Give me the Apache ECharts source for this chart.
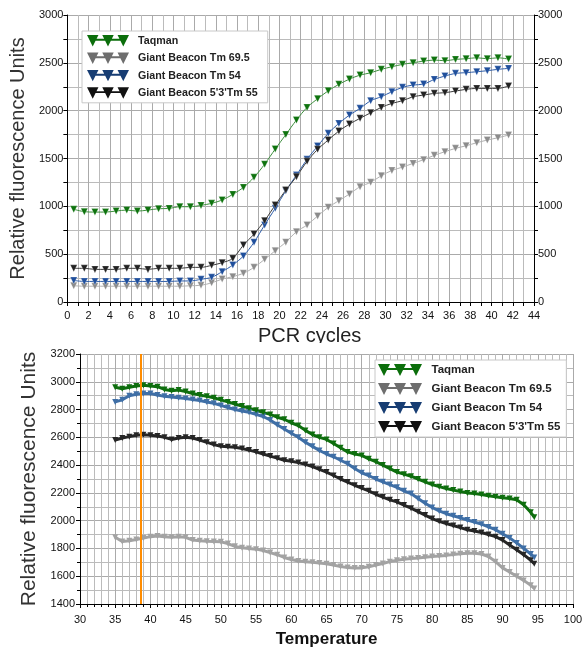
<!DOCTYPE html>
<html>
<head>
<meta charset="utf-8">
<script src="https://cdn.jsdelivr.net/npm/echarts@6/dist/echarts.min.js"></script>
<style>
    html, body { margin: 0; padding: 0; background: #fff; }
    #main { width: 587px; height: 651px; }
</style>
</head>
<body>
<div id="main"></div>
<script>
/* 数据：PCR 扩增曲线 */
var cycles = [0.6, 1.6, 2.6, 3.6, 4.6, 5.6, 6.6, 7.6, 8.6, 9.6, 10.6, 11.6, 12.6, 13.6, 14.6, 15.6, 16.6, 17.6, 18.6, 19.6, 20.6,
    21.6, 22.6, 23.6, 24.6, 25.6, 26.6, 27.6, 28.6, 29.6, 30.6, 31.6, 32.6, 33.6, 34.6, 35.6, 36.6, 37.6, 38.6, 39.6, 40.6, 41.6];
var taqmanPcr = [969, 944, 940, 940, 951, 961, 950, 961, 975, 978, 996, 996, 1010, 1031, 1066, 1125, 1198, 1303, 1440, 1599, 1750,
    1902, 2034, 2125, 2208, 2275, 2330, 2372, 2396, 2432, 2459, 2484, 2501, 2518, 2529, 2522, 2536, 2543, 2553, 2543, 2553, 2539];
var gb695Pcr = [170, 165, 165, 165, 165, 165, 165, 165, 165, 165, 165, 170, 175, 200, 240, 265, 300, 362, 446, 536, 625,
    735, 805, 899, 990, 1059, 1129, 1205, 1251, 1320, 1375, 1410, 1449, 1488, 1533, 1571, 1606, 1633, 1665, 1693, 1717, 1745];
var gb54Pcr = [225, 215, 215, 215, 215, 215, 215, 215, 215, 215, 220, 220, 237, 258, 317, 387, 481, 624, 805, 979, 1163,
    1327, 1491, 1630, 1763, 1867, 1954, 2024, 2104, 2146, 2198, 2244, 2268, 2278, 2327, 2362, 2390, 2397, 2407, 2418, 2432, 2442];
var gb55Pcr = [352, 352, 341, 341, 341, 352, 352, 341, 352, 352, 352, 362, 362, 383, 411, 456, 595, 710, 850, 1013, 1170,
    1310, 1470, 1596, 1693, 1787, 1860, 1920, 1978, 2034, 2076, 2104, 2146, 2163, 2181, 2188, 2205, 2223, 2233, 2233, 2233, 2257];

/* 数据：熔解曲线 */
var temps = [35, 36, 37, 38, 39, 40, 41, 42, 43, 44, 45, 46, 47, 48, 49, 50, 51, 52, 53, 54, 55, 56, 57, 58, 59, 60,
    61, 62, 63, 64, 65, 66, 67, 68, 69, 70, 71, 72, 73, 74, 75, 76, 77, 78, 79, 80, 81, 82, 83, 84, 85, 86, 87, 88, 89, 90,
    91, 92, 93, 94, 94.5];
var taqmanMelt = [2960, 2950, 2960, 2970, 2975, 2970, 2965, 2945, 2935, 2940,
    2930, 2915, 2905, 2895, 2885, 2870, 2855, 2840, 2825, 2810,
    2795, 2780, 2765, 2745, 2730, 2705, 2685, 2650, 2620, 2600,
    2585, 2555, 2525, 2495, 2480, 2470, 2445, 2425, 2400, 2375,
    2350, 2335, 2320, 2300, 2280, 2260, 2245, 2232, 2220, 2210,
    2200, 2195, 2188, 2180, 2172, 2165, 2160, 2150, 2115, 2060, 2025];
var gb695Melt = [1880, 1850, 1855, 1865, 1875, 1885, 1890, 1885, 1880, 1885,
    1880, 1860, 1855, 1852, 1850, 1848, 1835, 1815, 1805, 1800,
    1795, 1785, 1770, 1755, 1735, 1720, 1710, 1705, 1700, 1695,
    1690, 1680, 1670, 1662, 1660, 1660, 1668, 1680, 1692, 1705,
    1715, 1722, 1727, 1732, 1737, 1742, 1745, 1750, 1757, 1762,
    1765, 1765, 1760, 1742, 1705, 1660, 1630, 1600, 1570, 1535, 1512];
var gb54Melt = [2855, 2870, 2900, 2910, 2915, 2915, 2905, 2895, 2890, 2885,
    2880, 2872, 2865, 2855, 2845, 2830, 2815, 2800, 2790, 2780,
    2765, 2750, 2725, 2690, 2660, 2630, 2600, 2565, 2535, 2505,
    2480, 2460, 2435, 2410, 2375, 2345, 2325, 2300, 2280, 2260,
    2240, 2215, 2195, 2160, 2125, 2095, 2070, 2050, 2035, 2020,
    2005, 1990, 1975, 1955, 1935, 1905, 1875, 1840, 1800, 1760, 1735];
var gb55Melt = [2580, 2595, 2605, 2615, 2618, 2615, 2610, 2600, 2585, 2595,
    2600, 2595, 2580, 2565, 2548, 2535, 2532, 2528, 2520, 2508,
    2495, 2480, 2465, 2450, 2435, 2428, 2418, 2405, 2390, 2370,
    2350, 2325, 2300, 2278, 2255, 2235, 2215, 2190, 2170, 2150,
    2135, 2112, 2090, 2065, 2040, 2015, 1995, 1980, 1965, 1950,
    1935, 1925, 1915, 1900, 1885, 1860, 1825, 1790, 1755, 1715, 1690];
var meltMarker = 38.6; // 橙色竖线

var seriesNames = ['Taqman', 'Giant Beacon Tm 69.5', 'Giant Beacon Tm 54', "Giant Beacon 5'3'Tm 55"];
var legendColors = ['#0b6e0b', '#6e6e6e', '#173d73', '#111111'];
var pcrLine = ['#3d8f3d', '#b0b0b0', '#2b5ba8', '#3a3a3a'];
var pcrMark = ['#0e730e', '#8c8c8c', '#1f4f9c', '#222222'];
var meltColors = ['#0e6e0e', '#a3a3a3', '#3f6fa6', '#262626'];

/* 图例图标：三个倒三角连线 */
var legendIcon = 'path://M0,0 L12,0 L6,12 Z M16,0 L28,0 L22,12 Z M32,0 L44,0 L38,12 Z M6,4 L38,4 L38,6 L6,6 Z';

function zip(xs, ys) {
    var data = [];
    for (var i = 0; i < xs.length; i++) {
        data.push([xs[i], ys[i]]);
    }
    return data;
}

// 不要千分位逗号
function plainNum(v) {
    return String(v);
}

var labelStyle = { fontFamily: 'Liberation Sans', fontSize: 11, color: '#111' };
var gridLine = { show: true, lineStyle: { color: '#aaaaaa', width: 1 } };
var minorGridLine = { show: true, lineStyle: { color: '#bbbbbb', width: 1 } };
var blackAxis = { show: true, lineStyle: { color: '#000', width: 1 } };

function legendData() {
    return seriesNames.map(function (n, i) {
        return { name: n, icon: legendIcon, itemStyle: { color: legendColors[i], borderWidth: 0 } };
    });
}

var pcrData = [taqmanPcr, gb695Pcr, gb54Pcr, gb55Pcr];
var meltData = [taqmanMelt, gb695Melt, gb54Melt, gb55Melt];

var series = [];
pcrData.forEach(function (vals, i) {
    series.push({
        name: seriesNames[i],
        type: 'line',
        xAxisIndex: 0,
        yAxisIndex: 0,
        smooth: 0.3,
        symbol: 'triangle',
        symbolRotate: 180,
        symbolSize: 7,
        lineStyle: { color: pcrLine[i], width: 1 },
        itemStyle: { color: pcrMark[i], borderColor: 'rgba(255,255,255,0.5)', borderWidth: 0.5 },
        data: zip(cycles, vals)
    });
});
// 熔解曲线：灰、黑、蓝、绿 的绘制顺序
[1, 3, 2, 0].forEach(function (i) {
    var s = {
        name: seriesNames[i],
        type: 'line',
        xAxisIndex: 1,
        yAxisIndex: 2,
        symbol: 'triangle',
        symbolRotate: 180,
        symbolSize: 6,
        lineStyle: { color: meltColors[i], width: 3 },
        itemStyle: { color: meltColors[i] },
        data: zip(temps, meltData[i])
    };
    if (i === 1) {
        s.markLine = {
            silent: true,
            symbol: 'none',
            label: { show: false },
            lineStyle: { color: '#ff8c00', width: 2, type: 'solid' },
            data: [{ xAxis: meltMarker }]
        };
    }
    series.push(s);
});

var option = {
    animation: false,
    backgroundColor: '#fff',
    grid: [
        { left: 62, right: 53, top: 15, height: 287 },
        { left: 80, right: 14, top: 354, height: 250 }
    ],
    legend: [
        {
            orient: 'vertical', left: 82, top: 31,
            padding: [4, 10, 4, 5], itemGap: 6, itemWidth: 42, itemHeight: 13,
            backgroundColor: '#fff', borderColor: '#c8c8c8', borderWidth: 1,
            textStyle: { fontFamily: 'Liberation Sans', fontSize: 10.7, fontWeight: 'bold', color: '#222', padding: [0, 0, 0, 4] },
            selectedMode: false,
            data: legendData()
        },
        {
            orient: 'vertical', left: 375, top: 360,
            padding: [4, 6, 4, 3], itemGap: 7, itemWidth: 45, itemHeight: 12,
            backgroundColor: '#fff', borderColor: '#c8c8c8', borderWidth: 1,
            textStyle: { fontFamily: 'Liberation Sans', fontSize: 11.5, fontWeight: 'bold', color: '#222', padding: [0, 0, 0, 4] },
            selectedMode: false,
            data: legendData()
        }
    ],
    xAxis: [
        {
            gridIndex: 0, type: 'value', min: 0, max: 44, interval: 2,
            name: 'PCR cycles', nameLocation: 'middle', nameGap: 24,
            nameTextStyle: { fontFamily: 'Liberation Sans', fontSize: 20, color: '#222', padding: [0, 0, 0, 18] },
            axisLine: blackAxis,
            axisTick: { show: true, length: 4, lineStyle: { color: '#000' } },
            minorTick: { show: true, splitNumber: 2, length: 4, lineStyle: { color: '#000' } },
            axisLabel: labelStyle,
            splitLine: gridLine,
            minorSplitLine: minorGridLine
        },
        {
            gridIndex: 1, type: 'value', min: 30, max: 100, interval: 5,
            name: 'Temperature', nameLocation: 'middle', nameGap: 27,
            nameTextStyle: { fontFamily: 'Liberation Sans', fontSize: 17, fontWeight: 'bold', color: '#111' },
            axisLine: blackAxis,
            axisTick: { show: true, length: 4, lineStyle: { color: '#000' } },
            minorTick: { show: true, splitNumber: 5, length: 3, lineStyle: { color: '#000' } },
            axisLabel: { fontFamily: 'Liberation Sans', fontSize: 11, color: '#111', margin: 10 },
            splitLine: gridLine,
            minorSplitLine: minorGridLine
        }
    ],
    yAxis: [
        {
            gridIndex: 0, type: 'value', min: 0, max: 3000, interval: 500, position: 'left',
            name: 'Relative fluorescence Units', nameLocation: 'middle', nameGap: 36, nameRotate: 90,
            nameTextStyle: { fontFamily: 'Liberation Sans', fontSize: 20, color: '#333' },
            axisLine: blackAxis,
            axisTick: { show: true, length: 4, lineStyle: { color: '#000' } },
            minorTick: { show: true, splitNumber: 2, length: 4, lineStyle: { color: '#000' } },
            axisLabel: { fontFamily: 'Liberation Sans', fontSize: 11, color: '#111', margin: 4, formatter: plainNum },
            splitLine: gridLine,
            minorSplitLine: minorGridLine
        },
        {
            gridIndex: 0, type: 'value', min: 0, max: 3000, interval: 500, position: 'right',
            axisLine: blackAxis,
            axisTick: { show: true, length: 4, lineStyle: { color: '#000' } },
            minorTick: { show: true, splitNumber: 2, length: 4, lineStyle: { color: '#000' } },
            axisLabel: { fontFamily: 'Liberation Sans', fontSize: 11, color: '#111', margin: 4, formatter: plainNum },
            splitLine: { show: false }
        },
        {
            gridIndex: 1, type: 'value', min: 1400, max: 3200, interval: 200,
            name: 'Relative fluorescence Units', nameLocation: 'middle', nameGap: 26, nameRotate: 90,
            nameTextStyle: { fontFamily: 'Liberation Sans', fontSize: 21, color: '#333' },
            axisLine: blackAxis,
            axisTick: { show: true, length: 4, lineStyle: { color: '#000' } },
            minorTick: { show: true, splitNumber: 2, length: 3, lineStyle: { color: '#000' } },
            axisLabel: { fontFamily: 'Liberation Sans', fontSize: 11, color: '#111', margin: 5, formatter: plainNum },
            splitLine: gridLine,
            minorSplitLine: minorGridLine
        }
    ],
    // 下图覆盖住 "PCR cycles" 的下伸部分
    graphic: [{
        type: 'rect', left: 240, top: 343, z: 100,
        shape: { width: 140, height: 10 },
        style: { fill: '#fff' }
    }],
    series: series
};

var chart = echarts.init(document.getElementById('main'));
chart.setOption(option);
</script>
</body>
</html>
